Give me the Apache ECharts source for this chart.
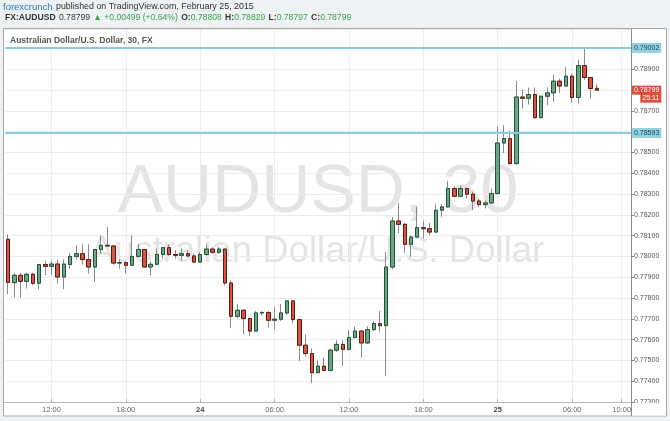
<!DOCTYPE html>
<html><head><meta charset="utf-8">
<script src="https://cdn.jsdelivr.net/npm/echarts@6/dist/echarts.min.js"></script>
<style>html,body{margin:0;padding:0;background:#eff2f5;}#chart{width:670px;height:421px;}</style>
</head><body><div id="chart"></div>
<script>
// 30-minute candles, Feb 23 08:30 -> Feb 25 08:00 (AUD/USD)
const openP = [0.78082,0.77874,0.77909,0.77880,0.77914,0.77871,0.77961,0.77952,0.77963,0.77901,
0.77961,0.78000,0.78013,0.77985,0.77949,0.78033,0.78053,0.78050,0.77968,0.77970,
0.77957,0.78000,0.78033,0.77949,0.77962,0.78009,0.78042,0.78009,0.78005,0.78013,
0.78002,0.77973,0.78009,0.78035,0.78020,0.78035,0.77872,0.77712,0.77741,0.77701,
0.77641,0.77728,0.77730,0.77693,0.77698,0.77728,0.77786,0.77696,0.77573,0.77533,
0.77441,0.77472,0.77452,0.77549,0.77577,0.77553,0.77610,0.77641,0.77584,0.77648,
0.77677,0.77667,0.77949,0.78170,0.78154,0.78058,0.78093,0.78138,0.78133,0.78117,
0.78222,0.78238,0.78326,0.78289,0.78326,0.78299,0.78266,0.78249,0.78257,0.78302,
0.78545,0.78566,0.78446,0.78766,0.78760,0.78778,0.78667,0.78770,0.78786,0.78842,
0.78819,0.78866,0.78764,0.78917,0.78860,0.78808];
const highP = [0.78106,0.77922,0.77922,0.77922,0.77922,0.77963,0.77978,0.77980,0.77985,0.77985,
0.78016,0.78053,0.78058,0.78058,0.78033,0.78101,0.78141,0.78053,0.77985,0.77975,
0.78101,0.78058,0.78035,0.77975,0.78038,0.78045,0.78058,0.78030,0.78038,0.78030,
0.78013,0.78020,0.78058,0.78045,0.78045,0.78037,0.77885,0.77770,0.77745,0.77705,
0.77738,0.77738,0.77738,0.77757,0.77770,0.77788,0.77788,0.77701,0.77624,0.77557,
0.77500,0.77513,0.77557,0.77597,0.77597,0.77645,0.77664,0.77645,0.77664,0.77689,
0.77738,0.78021,0.78189,0.78257,0.78160,0.78101,0.78238,0.78170,0.78161,0.78251,
0.78251,0.78363,0.78337,0.78342,0.78331,0.78310,0.78278,0.78270,0.78326,0.78626,
0.78630,0.78603,0.78843,0.78802,0.78812,0.78812,0.78772,0.78812,0.78874,0.78855,
0.78911,0.78879,0.78946,0.79002,0.78862,0.78829];
const lowP = [0.77818,0.77802,0.77802,0.77845,0.77861,0.77842,0.77909,0.77909,0.77869,0.77842,
0.77941,0.77985,0.77961,0.77917,0.77877,0.78013,0.78045,0.77960,0.77941,0.77917,
0.77955,0.77995,0.77945,0.77909,0.77957,0.77989,0.78003,0.77989,0.77980,0.77995,
0.77968,0.77968,0.78003,0.78013,0.78013,0.77861,0.77658,0.77701,0.77626,0.77616,
0.77636,0.77717,0.77658,0.77648,0.77690,0.77720,0.77677,0.77497,0.77520,0.77391,
0.77438,0.77449,0.77447,0.77540,0.77472,0.77548,0.77605,0.77513,0.77578,0.77640,
0.77636,0.77428,0.77937,0.78110,0.78016,0.77997,0.78090,0.78086,0.78101,0.78112,
0.78189,0.78235,0.78283,0.78285,0.78278,0.78222,0.78238,0.78230,0.78254,0.78298,
0.78497,0.78443,0.78440,0.78711,0.78730,0.78663,0.78663,0.78727,0.78742,0.78786,
0.78814,0.78738,0.78735,0.78847,0.78759,0.78797];
const closeP = [0.77875,0.77909,0.77880,0.77914,0.77871,0.77961,0.77952,0.77963,0.77901,0.77963,
0.78000,0.78013,0.77985,0.77949,0.78033,0.78053,0.78050,0.77968,0.77970,0.77957,
0.78000,0.78033,0.77949,0.77962,0.78009,0.78042,0.78009,0.78005,0.78013,0.78002,
0.77973,0.78009,0.78035,0.78020,0.78035,0.77872,0.77712,0.77741,0.77701,0.77641,
0.77728,0.77730,0.77693,0.77698,0.77728,0.77786,0.77696,0.77573,0.77533,0.77441,
0.77472,0.77452,0.77549,0.77577,0.77553,0.77610,0.77641,0.77584,0.77648,0.77677,
0.77667,0.77949,0.78170,0.78154,0.78058,0.78093,0.78138,0.78133,0.78117,0.78222,
0.78238,0.78326,0.78289,0.78326,0.78299,0.78266,0.78249,0.78257,0.78302,0.78545,
0.78566,0.78446,0.78766,0.78760,0.78778,0.78667,0.78770,0.78786,0.78842,0.78819,
0.78866,0.78764,0.78917,0.78860,0.78807,0.78799];

// horizontal levels drawn on the chart
const levelHigh = 0.79002;
const levelLow = 0.78593;
const lastPrice = 0.78799;
const countdown = '25:11';

// time axis: 30-min slots from Feb 23 08:30 to Feb 25 10:30
const slotCount = 101;
const categories = [];
for (let i = 0; i < slotCount; i++) {
  const m = 8 * 60 + 30 + i * 30;
  const d = 23 + Math.floor(m / 1440);
  const mm = m % 1440;
  categories.push(d + ' ' + String(Math.floor(mm / 60)).padStart(2, '0') + ':' + String(mm % 60).padStart(2, '0'));
}
const tickLabels = {
  '23 12:00': '12:00', '23 18:00': '18:00', '24 00:00': '24', '24 06:00': '06:00',
  '24 12:00': '12:00', '24 18:00': '18:00', '25 00:00': '25', '25 06:00': '06:00', '25 10:00': '10:00'
};
const dayLabels = ['24', '25'];
const hiddenPriceLabels = [0.790, 0.788, 0.786];

const wickData = openP.map((o, i) => [o, closeP[i], lowP[i], highP[i]]);
const bodyData = openP.map((o, i) => [o, closeP[i], Math.min(o, closeP[i]), Math.max(o, closeP[i])]);

const FONT = '"Liberation Sans", Arial, sans-serif';
const chart = echarts.init(document.getElementById('chart'));
const isTick = (idx, val) => tickLabels[val !== undefined ? val : categories[idx]] !== undefined;

const levelLabel = v => ({ show: true, position: 'end', distance: 1, formatter: v.toFixed(5),
  backgroundColor: '#8fd3e3', color: '#2d3b44', fontSize: 7, padding: [2, 2, 1, 2] });

chart.setOption({
  backgroundColor: '#eff2f5',
  animation: false,
  textStyle: { fontFamily: FONT },
  grid: { left: 5, right: 39, top: 29, bottom: 19, containLabel: false },
  graphic: [
    { type: 'rect', z: -5, shape: { x: 3.5, y: 28.5, width: 663, height: 387.5 },
      style: { fill: '#ffffff', stroke: '#a8a8a8', lineWidth: 1 } },
    { type: 'text', z: -4, style: { text: 'AUDUSD, 30', x: 318, y: 193, textAlign: 'center', textVerticalAlign: 'middle',
      font: '68px ' + FONT, fill: '#e4e4e4' } },
    { type: 'text', z: -4, style: { text: 'Australian Dollar/U.S. Dollar', x: 317, y: 252, textAlign: 'center', textVerticalAlign: 'middle',
      font: '36.5px ' + FONT, fill: '#e4e4e4' } },
    { type: 'text', z: 10, style: { text: 'Australian Dollar/U.S. Dollar, 30, FX', x: 10, y: 41, textVerticalAlign: 'middle',
      font: 'bold 8.5px ' + FONT, fill: '#555' } },
    { type: 'text', z: 10, style: {
      text: '{b|forexcrunch} {t|published on TradingView.com, February 25, 2015}',
      x: 3, y: 7, textVerticalAlign: 'middle',
      rich: { b: { fontSize: 9.5, fill: '#2b7bbf', fontFamily: FONT }, t: { fontSize: 8.9, fill: '#333', fontFamily: FONT } } } },
    { type: 'text', z: 10, style: {
      text: '{k|FX:AUDUSD} {t|0.78799} {g|▲ +0.00499 (+0.64%)} {k|O:}{g|0.78808} {k|H:}{g|0.78829} {k|L:}{g|0.78797} {k|C:}{g|0.78799}',
      x: 5, y: 18, textVerticalAlign: 'middle',
      rich: { k: { fontSize: 8.6, fontWeight: 'bold', fill: '#333', fontFamily: FONT },
              t: { fontSize: 8.6, fill: '#333', fontFamily: FONT },
              g: { fontSize: 8.6, fill: '#3aa648', fontFamily: FONT } } } },
    { type: 'rect', z: 20, shape: { x: 632, y: 403, width: 34, height: 12.5 }, style: { fill: '#ffffff' } },
    { type: 'line', z: 20, shape: { x1: 631.5, y1: 402, x2: 631.5, y2: 416 }, style: { stroke: '#8a8a8a', lineWidth: 1 } }
  ],
  xAxis: {
    type: 'category', data: categories, boundaryGap: true,
    axisLine: { show: true, lineStyle: { color: '#b5b5b5' } },
    axisTick: { show: true, inside: true, alignWithLabel: true, interval: isTick, length: 3, lineStyle: { color: '#b5b5b5' } },
    axisLabel: { interval: isTick, color: '#666', fontSize: 7.5, margin: 4,
      formatter: v => { const t = tickLabels[v]; return dayLabels.includes(t) ? '{d|' + t + '}' : t; },
      rich: { d: { fontWeight: 'bold', fontSize: 7.5, color: '#444' } } },
    splitLine: { show: true, alignWithLabel: true, interval: isTick, lineStyle: { color: '#ececec', width: 1 } }
  },
  yAxis: {
    type: 'value', position: 'right', min: 0.773, max: 0.79093, interval: 0.001, scale: true,
    axisLine: { show: true, lineStyle: { color: '#8a8a8a' } },
    axisTick: { show: true, length: 3, lineStyle: { color: '#8a8a8a' } },
    axisLabel: { color: '#555', fontSize: 7, margin: 3, showMaxLabel: false,
      formatter: v => hiddenPriceLabels.some(h => Math.abs(h - v) < 1e-7) ? '' : v.toFixed(5) },
    splitLine: { show: true, lineStyle: { color: '#ececec', width: 1 } }
  },
  series: [
    { type: 'candlestick', name: 'wick', data: wickData, barWidth: 4, z: 3,
      itemStyle: { color: 'rgba(0,0,0,0)', color0: 'rgba(0,0,0,0)', borderColor: '#8a8a8a', borderColor0: '#8a8a8a', borderWidth: 1 } },
    { type: 'candlestick', name: 'AUDUSD', data: bodyData, barWidth: 4, z: 4,
      itemStyle: { color: '#6ba583', color0: '#d75442', borderColor: '#225437', borderColor0: '#5b1a13', borderWidth: 1 } },
    { type: 'line', name: 'levels', data: [], z: 5, silent: true,
      markLine: {
        symbol: 'none', silent: true, animation: false, precision: 5,
        data: [
          { yAxis: levelHigh, lineStyle: { color: '#86cede', width: 2, type: 'solid' }, label: levelLabel(levelHigh) },
          { yAxis: levelLow, lineStyle: { color: '#86cede', width: 2, type: 'solid' }, label: levelLabel(levelLow) }
        ]
      } },
    { type: 'line', name: 'last', data: [], z: 6, silent: true,
      markLine: {
        symbol: 'none', silent: true, animation: false, precision: 5,
        data: [
          { yAxis: lastPrice, lineStyle: { color: 'rgba(0,0,0,0)', width: 1 },
            label: { show: true, position: 'end', distance: 1,
              formatter: '{e|' + lastPrice.toFixed(5) + '}\n{a|' + lastPrice.toFixed(5) + '}\n{b|' + countdown + '}',
              rich: {
                e: { fontSize: 7, color: 'rgba(0,0,0,0)', padding: [1, 2, 1, 2], lineHeight: 8 },
                a: { fontSize: 7, color: '#fff', backgroundColor: '#d9503f', padding: [1, 2, 1, 2], lineHeight: 8 },
                b: { fontSize: 7, color: '#fff', backgroundColor: '#d9503f', padding: [1, 2, 1, 2], lineHeight: 8, align: 'right' }
              } } }
        ]
      } }
  ]
});
</script></body></html>
